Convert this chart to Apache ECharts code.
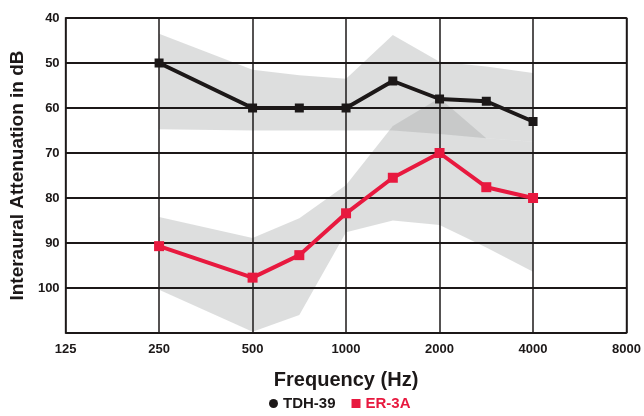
<!DOCTYPE html>
<html lang="en">
<head>
    <meta charset="UTF-8">
    <title>Interaural Attenuation</title>
    <script src="https://cdn.jsdelivr.net/npm/echarts@6/dist/echarts.min.js"></script>
    <style>
        html, body { margin: 0; padding: 0; background: #fff; }
        #chart { width: 644px; height: 416px; }
    </style>
</head>
<body>
    <div id="chart"></div>
    <script>
        // octave tick labels (x axis is drawn in octave steps from 125 Hz)
        const freqLabels = ['125', '250', '500', '1000', '2000', '4000', '8000'];
        // measured frequencies and where they sit on the octave scale
        const freqs = [250, 500, 750, 1000, 1500, 2000, 3000, 4000];
        const octavePos = [1, 2, 2.5, 3, 3.5, 4, 4.5, 5];

        // mean interaural attenuation (dB)
        const tdh39 = [50, 60, 60, 60, 54, 58, 58.5, 63];
        const er3a = [90.7, 97.7, 92.7, 83.4, 75.5, 70, 77.6, 80];

        // shaded ranges (dB)
        const tdh39Low = [43.5, 51.5, 52.7, 53.5, 43.8, 49.7, 50.8, 52.2];
        const tdh39High = [64.7, 65, 65, 65, 65, 65.8, 66.7, 67.5];
        const er3aLow = [84.2, 88.9, 84.5, 77.1, 64, 57.8, 66.7, 67.5];
        const er3aHigh = [100.4, 109.7, 106, 87.6, 85, 86, 91, 96.4];

        const font = "'Liberation Sans', Arial, sans-serif";
        const black = '#1c1818';
        const red = '#e8193f';
        const bandFill = 'rgba(166,167,168,0.38)';

        const pts = vals => vals.map((v, i) => [octavePos[i], v]);

        // one polygon per band, drawn through the axis scales
        function bandSeries(low, high) {
            return {
                type: 'custom',
                silent: true,
                z: -1,
                data: octavePos.map((x, i) => [x, low[i], high[i]]),
                encode: { x: 0, y: [1, 2] },
                renderItem: (params, api) => {
                    if (params.dataIndex !== 0) return null;
                    const top = octavePos.map((x, i) => api.coord([x, low[i]]));
                    const bottom = octavePos.map((x, i) => api.coord([x, high[i]])).reverse();
                    return {
                        type: 'polygon',
                        shape: { points: top.concat(bottom) },
                        style: { fill: bandFill }
                    };
                }
            };
        }

        const chart = echarts.init(document.getElementById('chart'));
        chart.setOption({
            animation: false,
            grid: {
                left: 64, right: 17, top: 18, bottom: 83,
                show: true, borderColor: black, borderWidth: 1.5
            },
            legend: {
                bottom: 0, left: 264,
                itemWidth: 9, itemHeight: 9, itemGap: 16,
                textStyle: { fontFamily: font, fontWeight: 'bold', fontSize: 15 },
                data: [
                    { name: 'TDH-39', icon: 'circle', itemStyle: { color: black }, textStyle: { color: black } },
                    { name: 'ER-3A', icon: 'rect', itemStyle: { color: red }, textStyle: { color: red } }
                ]
            },
            xAxis: {
                type: 'value', min: 0, max: 6, interval: 1,
                name: 'Frequency (Hz)', nameLocation: 'middle', nameGap: 37,
                nameTextStyle: { fontFamily: font, fontWeight: 'bold', fontSize: 20, color: black },
                axisLine: { show: false },
                axisTick: { show: false },
                axisLabel: {
                    margin: 10, fontFamily: font, fontWeight: 'bold', fontSize: 13, color: black,
                    formatter: v => freqLabels[v]
                },
                splitLine: { show: true, lineStyle: { color: black, width: 1.5 } }
            },
            yAxis: {
                type: 'value', inverse: true, min: 40, max: 110, interval: 10,
                name: 'Interaural Attenuation in dB', nameLocation: 'middle', nameGap: 36,
                nameTextStyle: { fontFamily: font, fontWeight: 'bold', fontSize: 19, color: black },
                axisLine: { show: false },
                axisTick: { show: false },
                axisLabel: {
                    margin: 6, fontFamily: font, fontWeight: 'bold', fontSize: 13, color: black,
                    formatter: v => (v === 110 ? '' : v)
                },
                splitLine: { show: true, lineStyle: { color: black, width: 1.8 } }
            },
            series: [
                bandSeries(tdh39Low, tdh39High),
                bandSeries(er3aLow, er3aHigh),
                {
                    name: 'TDH-39', type: 'line', data: pts(tdh39),
                    symbol: 'rect', symbolSize: 9,
                    lineStyle: { color: black, width: 4 },
                    itemStyle: { color: black }, z: 3
                },
                {
                    name: 'ER-3A', type: 'line', data: pts(er3a),
                    symbol: 'rect', symbolSize: 10,
                    lineStyle: { color: red, width: 4 },
                    itemStyle: { color: red }, z: 4
                }
            ]
        });
    </script>
</body>
</html>
